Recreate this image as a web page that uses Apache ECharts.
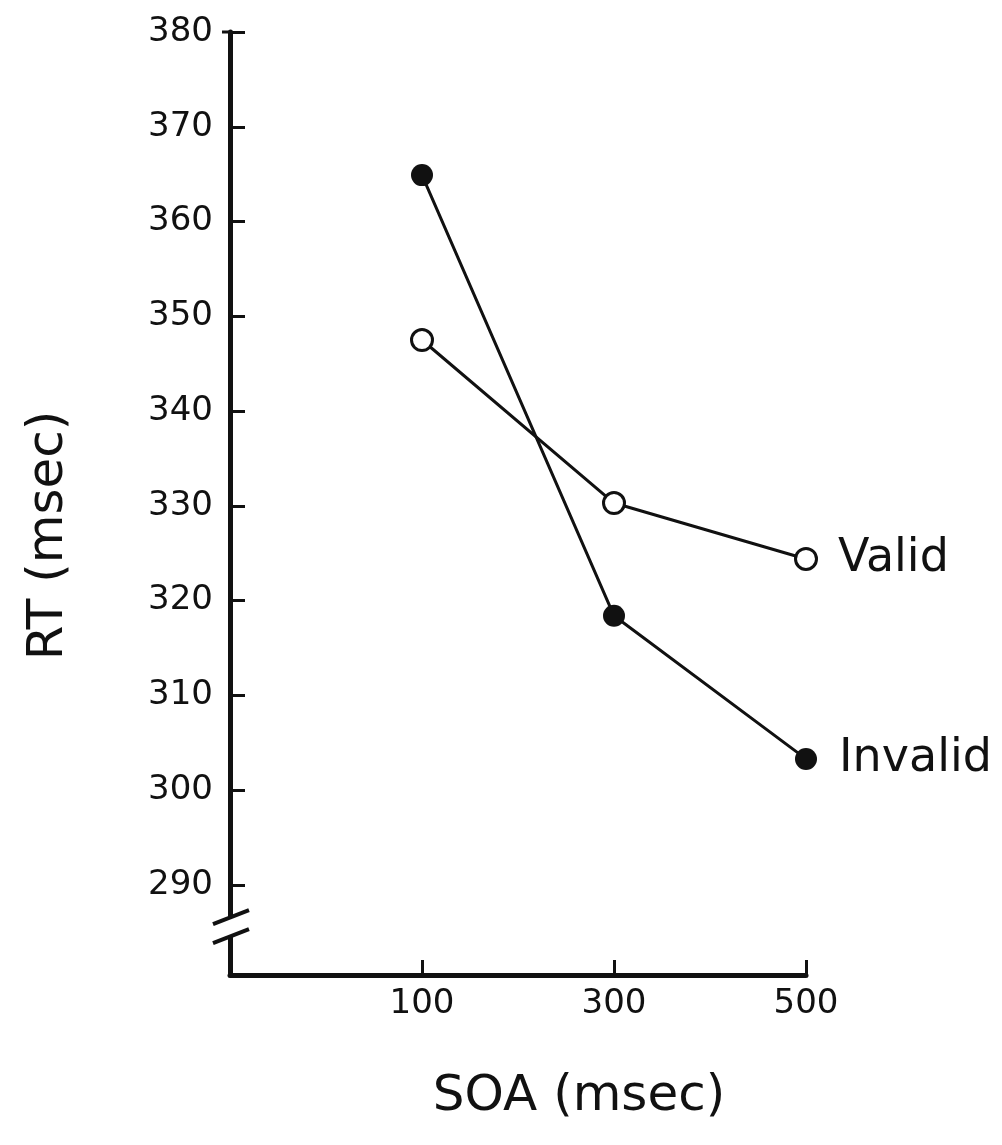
<!DOCTYPE html>
<html><head><meta charset="utf-8">
<script src="https://cdn.jsdelivr.net/npm/echarts@6/dist/echarts.min.js"></script>
<style>html,body{margin:0;padding:0;background:#fff}#c{width:1002px;height:1145px}</style>
</head><body><div id="c"></div>
<script>
const soa = [100, 300, 500];
const validRT = [347.5, 330.3, 324.4];
const invalidRT = [364.9, 318.4, 303.3];
const yTicks = [290, 300, 310, 320, 330, 340, 350, 360, 370, 380];
const xTicks = [100, 300, 500];
const seriesNames = ['Valid', 'Invalid'];
const xTitle = 'SOA (msec)';
const yTitle = 'RT (msec)';

const INK = '#111';
const FONT = '"DejaVu Sans", sans-serif';

function pts(vals, name) {
  return vals.map((v, i) => {
    const item = { value: [soa[i], v] };
    if (i === vals.length - 1) item.label = { show: true, formatter: name };
    return item;
  });
}

const chart = echarts.init(document.getElementById('c'), null, { renderer: 'canvas' });
const option = {
  backgroundColor: '#fff',
  animation: false,
  grid: { left: 230, right: 196, top: 32, bottom: 170, containLabel: false },
  xAxis: {
    type: 'value', min: -100, max: 500,
    axisLine: { show: true, onZero: false, lineStyle: { color: INK, width: 5 } },
    axisTick: { show: true, inside: true, length: 15, customValues: xTicks, lineStyle: { color: INK, width: 3 } },
    axisLabel: { show: true, customValues: xTicks, margin: 12, color: INK, fontFamily: FONT, fontSize: 34 },
    splitLine: { show: false }
  },
  yAxis: {
    type: 'value', min: 280.5, max: 380,
    axisLine: { show: true, onZero: false, lineStyle: { color: INK, width: 5 } },
    axisTick: { show: true, inside: true, length: 15, customValues: yTicks, lineStyle: { color: INK, width: 3 } },
    axisLabel: { show: true, customValues: yTicks, margin: 17, color: INK, fontFamily: FONT, fontSize: 34 },
    splitLine: { show: false }
  },
  series: [
    {
      name: seriesNames[0], type: 'line', data: pts(validRT, seriesNames[0]),
      symbol: 'circle', symbolSize: 21, z: 3,
      lineStyle: { color: INK, width: 3 },
      itemStyle: { color: '#fff', borderColor: INK, borderWidth: 3 },
      label: { show: false, position: 'right', distance: 20, color: INK, fontFamily: FONT, fontSize: 46 }
    },
    {
      name: seriesNames[1], type: 'line', data: pts(invalidRT, seriesNames[1]),
      symbol: 'circle', symbolSize: 22, z: 3,
      lineStyle: { color: INK, width: 3 },
      itemStyle: { color: INK, borderColor: INK, borderWidth: 0 },
      label: { show: false, position: 'right', distance: 22, color: INK, fontFamily: FONT, fontSize: 46 }
    }
  ]
};
chart.setOption(option);

// axis break mark and axis titles
const ax = chart.convertToPixel({ xAxisIndex: 0 }, -100);
const yb1 = chart.convertToPixel({ yAxisIndex: 0 }, 286.6);
const yb2 = chart.convertToPixel({ yAxisIndex: 0 }, 284.6);
const gx1 = chart.convertToPixel({ xAxisIndex: 0 }, 100);
const gx2 = chart.convertToPixel({ xAxisIndex: 0 }, 500);
const gyTop = chart.convertToPixel({ yAxisIndex: 0 }, 380);
const gyBot = chart.convertToPixel({ yAxisIndex: 0 }, 280.5);
chart.setOption({
  graphic: [
    { type: 'rect', shape: { x: ax - 5, y: yb1, width: 10, height: yb2 - yb1 }, style: { fill: '#fff' }, z: 100 },
    { type: 'line', shape: { x1: ax - 17, y1: yb1 + 7, x2: ax + 19, y2: yb1 - 7 }, style: { stroke: INK, lineWidth: 4 }, z: 101 },
    { type: 'line', shape: { x1: ax - 17, y1: yb2 + 7, x2: ax + 19, y2: yb2 - 7 }, style: { stroke: INK, lineWidth: 4 }, z: 101 },
    { type: 'line', shape: { x1: ax - 8, y1: gyTop, x2: ax, y2: gyTop }, style: { stroke: INK, lineWidth: 3 }, z: 101 },
    { type: 'text', x: 49, y: (gyTop + gyBot) / 2 + 32, rotation: Math.PI / 2,
      style: { text: yTitle, fill: INK, font: '50px ' + FONT, textAlign: 'center', textVerticalAlign: 'middle' }, z: 101 },
    { type: 'text', x: (gx1 + gx2) / 2 - 35, y: 1097,
      style: { text: xTitle, fill: INK, font: '50px ' + FONT, textAlign: 'center', textVerticalAlign: 'middle' }, z: 101 }
  ]
});
</script>
</body></html>
